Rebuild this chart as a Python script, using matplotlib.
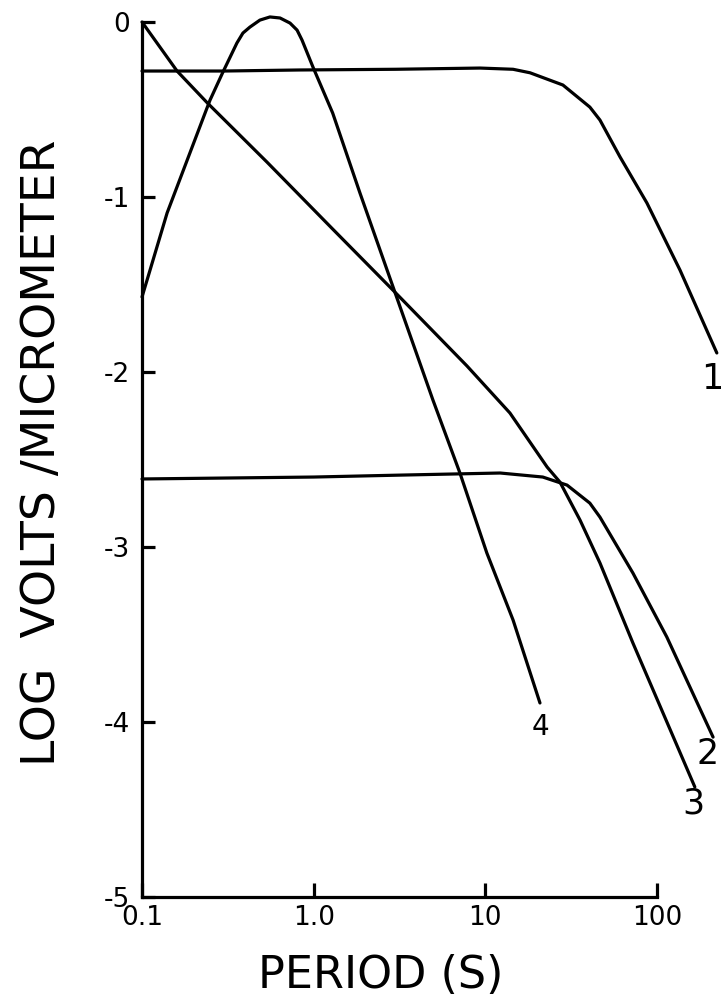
import matplotlib
matplotlib.use("Agg")
import matplotlib.pyplot as plt

# Curves (period in s, log volts / micrometer)
periodo_1 = [0.1, 0.3, 0.83, 3.0, 9.3, 14.5, 18.2, 28.3, 40.6, 46.5, 60.8, 87.3, 136, 223]
valor_1 = [-0.28, -0.28, -0.274, -0.27, -0.263, -0.27, -0.29, -0.36, -0.486, -0.56, -0.77, -1.034, -1.417, -1.891]

periodo_2 = [0.1, 1.0, 3.18, 12.2, 21.6, 29.9, 40.6, 46.5, 72.4, 114, 212]
valor_2 = [-2.611, -2.60, -2.589, -2.577, -2.60, -2.646, -2.749, -2.829, -3.149, -3.514, -4.086]

periodo_3 = [0.1, 0.16, 0.239, 0.534, 1.29, 2.97, 4.95, 7.81, 13.9, 22.9, 27.2, 35.6, 46.5, 72.4, 166]
valor_3 = [0.0, -0.28, -0.46, -0.80, -1.183, -1.543, -1.766, -1.965, -2.234, -2.543, -2.629, -2.846, -3.091, -3.549, -4.371]

periodo_4 = [0.1, 0.14, 0.233, 0.249, 0.296, 0.357, 0.387, 0.425, 0.486, 0.556, 0.637, 0.728, 0.80, 0.855,
             0.99, 1.29, 1.86, 2.97, 4.95, 7.11, 10.2, 14.5, 20.8]
valor_4 = [-1.571, -1.091, -0.52, -0.446, -0.286, -0.12, -0.063, -0.029, 0.011, 0.029, 0.023, -0.006, -0.046, -0.103,
           -0.257, -0.52, -0.977, -1.543, -2.16, -2.577, -3.034, -3.417, -3.891]

curvas = [(periodo_1, valor_1, "1"), (periodo_2, valor_2, "2"),
          (periodo_3, valor_3, "3"), (periodo_4, valor_4, "4")]

xticks = [0.1, 1.0, 10, 100]
xtick_labels = ["0.1", "1.0", "10", "100"]
yticks = [0, -1, -2, -3, -4, -5]
ytick_labels = ["0", "-1", "-2", "-3", "-4", "-5"]

# offsets (points) of the curve numbers from the end of each curve
offsets = {"1": (-3, -19), "2": (-4, -12), "3": (-1, -12), "4": (0, -17)}
tamanos = {"1": 25, "2": 25, "3": 25, "4": 20}

fig = plt.figure(figsize=(7.22, 10.06), dpi=100)
ax = fig.add_axes([0.1967, 0.1083, 0.8033, 0.8872])

for x, y, etiqueta in curvas:
    ax.plot(x, y, color="black", linewidth=2.3, solid_joinstyle="round",
            solid_capstyle="round", clip_on=False)
    ax.annotate(etiqueta, (x[-1], y[-1]), xytext=offsets[etiqueta],
                textcoords="offset points", ha="center", va="center",
                fontsize=tamanos[etiqueta])

ax.set_xscale("log")
ax.set_xlim(0.1, 239)
ax.set_ylim(-5, 0.1)

ax.set_xticks(xticks)
ax.set_xticklabels(xtick_labels)
ax.set_yticks(yticks)
ax.set_yticklabels(ytick_labels)
ax.minorticks_off()

for lado in ["top", "right"]:
    ax.spines[lado].set_visible(False)
for lado in ["left", "bottom"]:
    ax.spines[lado].set_linewidth(2.3)
ax.spines["left"].set_bounds(-5, 0)
ax.spines["bottom"].set_bounds(0.1, 100)

ax.tick_params(axis="x", direction="in", length=10, width=2.3, labelsize=19, pad=6)
ax.tick_params(axis="y", direction="in", length=9, width=2.3, labelsize=19, pad=9)

fig.text(381 / 722, 18 / 1006, "PERIOD (S)", ha="center", va="baseline", fontsize=32)
fig.text(43 / 722, (1006 - 453) / 1006, "LOG  VOLTS /MICROMETER", rotation=90,
         ha="center", va="center", fontsize=34)

fig.savefig("out.png", dpi=100)
